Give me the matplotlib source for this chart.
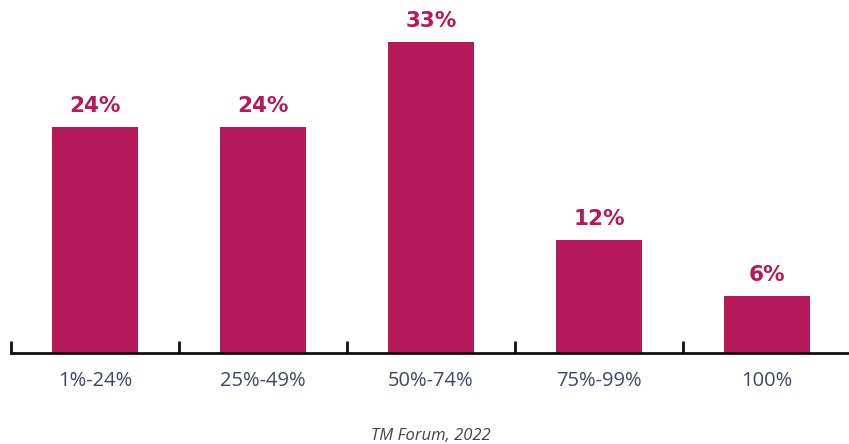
import matplotlib.pyplot as plt

categories = ['1%-24%', '25%-49%', '50%-74%', '75%-99%', '100%']
shares = [24, 24, 33, 12, 6]

bar_color = '#b5195a'
label_color = '#3e4866'

fig = plt.figure(figsize=(8.49, 4.44), dpi=100)
# axes: baseline at 91px from bottom, 9.42px per percent
ax = fig.add_axes([11 / 849, 91 / 444, 838 / 849, 36 * 9.42 / 444])

x = range(len(categories))
ax.bar(x, shares, width=86 / 168, color=bar_color)
for xi, v in zip(x, shares):
    ax.text(xi, v + 1.2, f'{v}%', ha='center', va='bottom', fontsize=15.5,
            fontweight='bold', color=bar_color, family='DejaVu Sans')

ax.set_xlim(-0.5, 4.5 - 2 / 168)
ax.set_ylim(0, 36)

for side in ['top', 'right', 'left']:
    ax.spines[side].set_visible(False)
ax.spines['bottom'].set_linewidth(2)
ax.spines['bottom'].set_color('#111111')

ax.set_yticks([])
ax.set_xticks(list(x))
ax.set_xticklabels(categories, fontsize=14.5, color=label_color,
                   family=['Open Sans', 'DejaVu Sans'])
ax.tick_params(axis='x', which='major', length=0, pad=13)
ax.set_xticks([-0.5, 0.5, 1.5, 2.5, 3.5], minor=True)
ax.tick_params(axis='x', which='minor', direction='in', length=9, width=2,
               color='#111111')

fig.text(431 / 849, 1 - 436 / 444, 'TM Forum, 2022', ha='center', va='center',
         fontsize=12, style='italic', color='#444444',
         family=['Open Sans', 'DejaVu Sans'])

fig.savefig('out.png', dpi=100)
